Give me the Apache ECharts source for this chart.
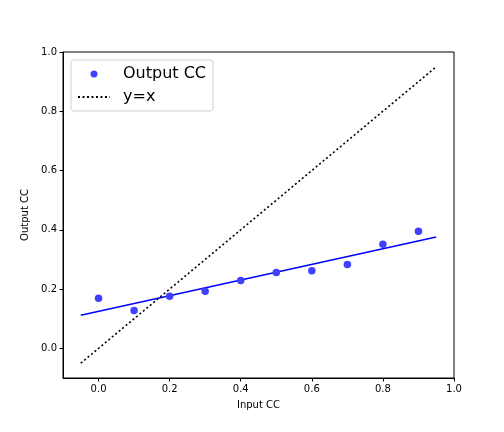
<!DOCTYPE html>
<html>
<head>
<meta charset="utf-8">
<script src="https://cdn.jsdelivr.net/npm/echarts@6/dist/echarts.min.js"></script>
<style>
  html, body { margin: 0; padding: 0; background: #fff; }
  #main { width: 504px; height: 432px; }
</style>
</head>
<body>
<div id="main"></div>
<script>
// data
var inputCC = [0.0, 0.1, 0.2, 0.3, 0.4, 0.5, 0.6, 0.7, 0.8, 0.9];
var outputCC = [0.169, 0.128, 0.176, 0.193, 0.229, 0.256, 0.262, 0.283, 0.351, 0.395];
var fitX = [-0.05, 0.95];
var fitY = [0.112, 0.376];
var identX = [-0.05, 0.95];
var tickValues = [0.0, 0.2, 0.4, 0.6, 0.8, 1.0];

var font = "DejaVu Sans";

function pairs(xs, ys) {
  return xs.map(function (x, i) { return [x, ys[i]]; });
}

function axisStyle(name, gap) {
  return {
    type: "value", min: -0.1, max: 1.0,
    name: name, nameLocation: "middle", nameGap: gap,
    nameTextStyle: { fontFamily: font, fontSize: 10, color: "#000" },
    axisLine: { show: true, onZero: false, lineStyle: { color: "#000" } },
    axisTick: { show: true, length: 3.5, customValues: tickValues, lineStyle: { color: "#000" } },
    axisLabel: {
      customValues: tickValues, fontFamily: font, fontSize: 10, color: "#000", margin: 6,
      formatter: function (v) { return v.toFixed(1); }
    },
    splitLine: { show: false }
  };
}

var chart = echarts.init(document.getElementById("main"));
chart.setOption({
  animation: false,
  backgroundColor: "#fff",
  grid: {
    left: 63, right: 50, top: 52, bottom: 54,
    show: true, borderColor: "#000", borderWidth: 1,
    backgroundColor: "transparent"
  },
  legend: {
    left: 71, top: 60,
    orient: "vertical",
    backgroundColor: "#fff",
    borderColor: "#d0d0d0",
    borderWidth: 1,
    borderRadius: 3,
    padding: [5, 7, 5, 6],
    itemWidth: 32,
    itemHeight: 7,
    itemGap: 5,
    textStyle: { fontFamily: font, fontSize: 16, color: "#000", lineHeight: 18, padding: [0, 0, 0, 8] },
    data: [
      { name: "Output CC", icon: "circle" },
      { name: "y=x", itemStyle: { opacity: 0 } }
    ]
  },
  xAxis: axisStyle("Input CC", 22),
  yAxis: axisStyle("Output CC", 29),
  series: [
    {
      name: "Output CC",
      type: "scatter",
      symbolSize: 7.5,
      itemStyle: { color: "#4040ff", opacity: 1 },
      data: pairs(inputCC, outputCC),
      z: 3
    },
    {
      name: "fit",
      type: "line",
      symbol: "none",
      lineStyle: { color: "#0000ff", width: 1.5 },
      data: pairs(fitX, fitY),
      z: 2
    },
    {
      name: "y=x",
      type: "line",
      symbol: "none",
      itemStyle: { color: "#000" },
      lineStyle: { color: "#000", width: 1.6, type: [2, 2.5] },
      data: pairs(identX, identX),
      z: 2
    }
  ]
});
</script>
</body>
</html>
